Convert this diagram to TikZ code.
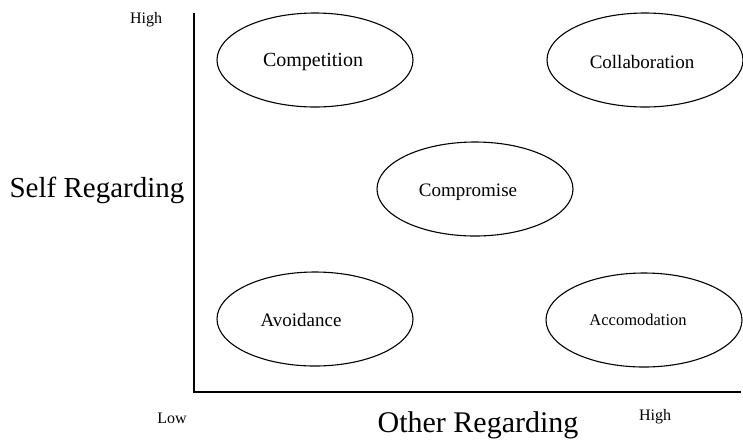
\documentclass[tikz,border=0pt]{standalone}
\usepackage{fontspec}
\setmainfont{Liberation Serif}
\usetikzlibrary{shapes.geometric}

\begin{document}
\begin{tikzpicture}[x=1pt,y=-1pt]
	\tikzstyle{ellipse_style} = [ellipse,draw=black,line width=1.1pt,minimum width=196pt,minimum height=94pt,inner sep=0pt]
	\tikzstyle{text_style} = [inner sep=0pt,font=\fontsize{19}{21}\selectfont]
	\tikzstyle{small_style} = [inner sep=0pt,font=\fontsize{16}{18}\selectfont]
	\tikzstyle{big_style} = [inner sep=0pt,font=\fontsize{30}{32}\selectfont]
	\tikzstyle{axis_style} = [draw=black,line width=1.4pt]
	\useasboundingbox (0,0) rectangle (743,440);
	\node[ellipse_style,label={[text_style,font=\fontsize{20}{22}\selectfont,xshift=-2pt,yshift=-2pt]center:Competition}] (competition) at (315,60) {};
	\node[ellipse_style,label={[text_style,xshift=-3pt,yshift=-2pt]center:Collaboration}] (collaboration) at (645,60) {};
	\node[ellipse_style,label={[text_style,xshift=-7pt,yshift=-3pt]center:Compromise}] (compromise) at (475,189) {};
	\node[ellipse_style,label={[text_style,xshift=-14pt,yshift=-1pt]center:Avoidance}] (avoidance) at (315,319) {};
	\node[ellipse_style,label={[text_style,font=\fontsize{16.5}{18}\selectfont,xshift=-6pt]center:Accomodation}] (accomodation) at (644,320) {};
	\node[small_style] (high_self) at (146,20) {High};
	\node[small_style] (low) at (172,418) {Low};
	\node[small_style] (high_other) at (655,417) {High};
	\node[big_style,font=\fontsize{29}{31}\selectfont] (self) at (97,190) {Self Regarding};
	\node[big_style] (other) at (478,425) {Other Regarding};
	\coordinate (top) at (194,13);
	\coordinate (origin) at (194,392);
	\coordinate (right) at (741,392);
	\draw[axis_style] (top) -- (origin) -- (right);
\end{tikzpicture}
\end{document}
